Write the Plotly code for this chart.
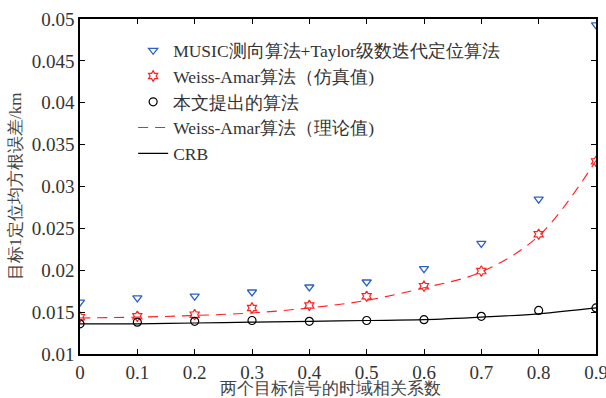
import plotly.graph_objects as go

x_vals = [0, 0.1, 0.2, 0.3, 0.4, 0.5, 0.6, 0.7, 0.8, 0.9]
music_taylor = [0.0162, 0.0167, 0.0169, 0.0174, 0.0180, 0.0186, 0.0202, 0.0232, 0.0285, 0.0493]
weiss_sim = [0.0144, 0.0145, 0.0147, 0.0155, 0.0158, 0.0169, 0.0181, 0.0199, 0.0243, 0.0330]
proposed = [0.0136, 0.0138, 0.0139, 0.0140, 0.0139, 0.0140, 0.0141, 0.0145, 0.0152, 0.0155]
weiss_theory = [0.0143, 0.0144, 0.0146, 0.0149, 0.0155, 0.0164, 0.0179, 0.0198, 0.0241, 0.0331]
crb = [0.0136, 0.0136, 0.0137, 0.0138, 0.0139, 0.0140, 0.0141, 0.0144, 0.0148, 0.0155]

x_ticks = [0, 0.1, 0.2, 0.3, 0.4, 0.5, 0.6, 0.7, 0.8, 0.9]
x_ticktext = ["0", "0.1", "0.2", "0.3", "0.4", "0.5", "0.6", "0.7", "0.8", "0.9"]
y_ticks = [0.01, 0.015, 0.02, 0.025, 0.03, 0.035, 0.04, 0.045, 0.05]
y_ticktext = ["0.01", "0.015", "0.02", "0.025", "0.03", "0.035", "0.04", "0.045", "0.05"]
x_title = "两个目标信号的时域相关系数"
y_title = "目标1定位均方根误差/km"

FONT = "Liberation Serif"

fig = go.Figure()
fig.add_trace(go.Scatter(
    x=x_vals, y=music_taylor, mode="markers",
    name="MUSIC测向算法+Taylor级数迭代定位算法",
    marker=dict(symbol="triangle-down-open", size=8, color="#2a62c4", line=dict(width=1.3)),
))
fig.add_trace(go.Scatter(
    x=x_vals, y=weiss_sim, mode="markers",
    name="Weiss-Amar算法（仿真值)",
    marker=dict(symbol="hexagram-open", size=8, color="#ff2020", line=dict(width=1.2)),
))
fig.add_trace(go.Scatter(
    x=x_vals, y=proposed, mode="markers",
    name="本文提出的算法",
    marker=dict(symbol="circle-open", size=8, color="#000000", line=dict(width=1.2)),
))
fig.add_trace(go.Scatter(
    x=x_vals, y=weiss_theory, mode="lines",
    name="Weiss-Amar算法（理论值)",
    line=dict(color="#ff2020", width=1.1, dash="10px,7px", shape="spline"),
))
fig.add_trace(go.Scatter(
    x=x_vals, y=crb, mode="lines",
    name="CRB",
    line=dict(color="#000000", width=1.2, shape="spline"),
))

axis_common = dict(
    showgrid=False, zeroline=False, showline=True, linecolor="#000", linewidth=1.5,
    mirror="allticks", ticks="inside", ticklen=5, tickcolor="#000", tickwidth=1,
    tickfont=dict(family=FONT, size=19, color="#333"), automargin=False,
    ticklabeloverflow="allow",
)

fig.update_layout(
    width=606, height=398,
    margin=dict(l=80, r=10, t=19, b=44),
    paper_bgcolor="white", plot_bgcolor="white",
    font=dict(family=FONT, color="#333"),
    showlegend=True,
    legend=dict(
        x=0.103, y=0.96, xanchor="left", yanchor="top",
        font=dict(family=FONT, size=17.5, color="#333"),
        bgcolor="rgba(0,0,0,0)", tracegroupgap=0,
    ),
    xaxis=dict(range=[0, 0.9], tickvals=x_ticks, ticktext=x_ticktext, **axis_common),
    yaxis=dict(
        range=[0.01, 0.05], tickvals=y_ticks, ticktext=y_ticktext,
        title=dict(text=y_title, font=dict(family=FONT, size=17, color="#444"), standoff=6),
        **axis_common,
    ),
    annotations=[dict(
        text=x_title, xref="paper", yref="paper", x=0.485, y=-0.103,
        xanchor="center", yanchor="middle", showarrow=False,
        font=dict(family=FONT, size=17, color="#444"),
    )],
)

fig.write_html("out.html", config={"displayModeBar": False},
               post_script="document.body.style.margin='0';document.body.style.padding='0';")
